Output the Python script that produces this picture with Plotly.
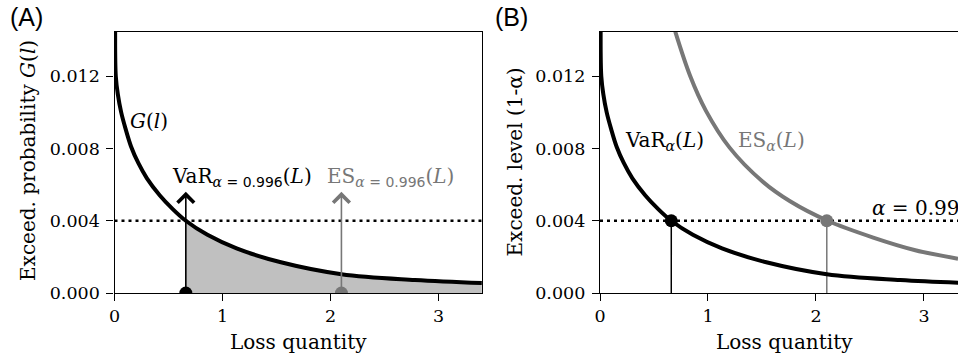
import plotly.graph_objects as go

# ---------------- data ----------------
loss_G = [0.006, 0.012, 0.031, 0.062, 0.102, 0.154, 0.22, 0.30, 0.42, 0.53, 0.66,
          0.86, 1.13, 1.54, 2.10, 2.78, 3.40]
G_vals = [0.01447, 0.0120, 0.0110, 0.0100, 0.0091, 0.0081, 0.0072, 0.00635, 0.0054, 0.0047, 0.0040,
          0.00322, 0.00247, 0.00170, 0.00104, 0.00072, 0.00055]

loss_ES = [0.697, 0.836, 0.98, 1.20, 1.50, 1.76, 2.108, 2.53, 2.92, 3.315]
ES_level = [0.01447, 0.0120, 0.0101, 0.00805, 0.0062, 0.00508, 0.0040, 0.00307, 0.00237, 0.00190]

alpha_level = 0.004      # 1 - alpha
var_loss = 0.66
es_loss = 2.10
arrow_top = 0.0056

x_ticks = [0, 1, 2, 3]
y_ticks = [0.0, 0.004, 0.008, 0.012]
x_max_A = 3.4
x_max_B = 3.315
y_max = 0.01447

BLACK = "black"
GRAY = "#777777"
FILL = "#c0c0c0"
SERIF = "DejaVu Serif"

W, H = 958, 357
def fx(p):
    return p / W
def fy(p):
    return 1 - p / H

fig = go.Figure()

# ---------------- panel A ----------------
fill_x = [var_loss] + [l for l in loss_G if l > var_loss]
fill_y = [alpha_level] + [g for l, g in zip(loss_G, G_vals) if l > var_loss]
fig.add_trace(go.Scatter(x=fill_x, y=fill_y, mode="lines", line=dict(width=0, shape="spline"),
                         fill="tozeroy", fillcolor=FILL, xaxis="x", yaxis="y", hoverinfo="skip"))
fig.add_trace(go.Scatter(x=[0, x_max_A], y=[alpha_level, alpha_level], mode="lines",
                         line=dict(color=BLACK, width=2.5, dash="3px,4px"), xaxis="x", yaxis="y"))
fig.add_trace(go.Scatter(x=loss_G, y=G_vals, mode="lines",
                         line=dict(color=BLACK, width=4, shape="spline", smoothing=1.0),
                         xaxis="x", yaxis="y"))
fig.add_trace(go.Scatter(x=[var_loss], y=[0], mode="markers",
                         marker=dict(color=BLACK, size=13), xaxis="x", yaxis="y", cliponaxis=True))
fig.add_trace(go.Scatter(x=[es_loss], y=[0], mode="markers",
                         marker=dict(color=GRAY, size=13), xaxis="x", yaxis="y", cliponaxis=True))

# ---------------- panel B ----------------
fig.add_trace(go.Scatter(x=[0, x_max_B], y=[alpha_level, alpha_level], mode="lines",
                         line=dict(color=BLACK, width=2.5, dash="3px,4px"), xaxis="x2", yaxis="y2"))
fig.add_trace(go.Scatter(x=[var_loss, var_loss], y=[0, alpha_level], mode="lines",
                         line=dict(color=BLACK, width=1.5), xaxis="x2", yaxis="y2"))
fig.add_trace(go.Scatter(x=[es_loss, es_loss], y=[0, alpha_level], mode="lines",
                         line=dict(color=GRAY, width=1.5), xaxis="x2", yaxis="y2"))
fig.add_trace(go.Scatter(x=loss_G, y=G_vals, mode="lines",
                         line=dict(color=BLACK, width=4, shape="spline", smoothing=1.0),
                         xaxis="x2", yaxis="y2"))
fig.add_trace(go.Scatter(x=loss_ES, y=ES_level, mode="lines",
                         line=dict(color=GRAY, width=4, shape="spline", smoothing=1.0),
                         xaxis="x2", yaxis="y2"))
fig.add_trace(go.Scatter(x=[var_loss], y=[alpha_level], mode="markers",
                         marker=dict(color=BLACK, size=13), xaxis="x2", yaxis="y2"))
fig.add_trace(go.Scatter(x=[es_loss], y=[alpha_level], mode="markers",
                         marker=dict(color=GRAY, size=13), xaxis="x2", yaxis="y2"))

axis_common = dict(showline=True, linecolor=BLACK, linewidth=1.3, ticks="outside", ticklen=7,
                   tickwidth=1.3, tickcolor=BLACK, showgrid=False, zeroline=False,
                   automargin=False,
                   tickfont=dict(family=SERIF, size=17.5, color=BLACK))

y_dom = [fy(293), fy(31.7)]
fig.update_layout(
    width=W, height=H, margin=dict(l=0, r=0, t=0, b=0, autoexpand=False),
    paper_bgcolor="white", plot_bgcolor="white", showlegend=False,
    xaxis=dict(axis_common, domain=[fx(114.5), fx(481.9)], range=[0, x_max_A], tickvals=x_ticks,
               mirror=True, anchor="y"),
    yaxis=dict(axis_common, domain=y_dom, range=[0, y_max], tickvals=y_ticks, tickformat=".3f",
               mirror=True, anchor="x", ticklabelstandoff=3),
    xaxis2=dict(axis_common, domain=[fx(600), 1.0], range=[0, x_max_B], tickvals=x_ticks,
                mirror=True, anchor="y2"),
    yaxis2=dict(axis_common, domain=y_dom, range=[0, y_max], tickvals=y_ticks, tickformat=".3f",
                mirror=False, anchor="x2", ticklabelstandoff=3),
)

txt = dict(family=SERIF, size=20, color=BLACK)
gtxt = dict(family=SERIF, size=20, color=GRAY)
ann = []
# arrows in A
for xv, col in [(var_loss, BLACK), (es_loss, GRAY)]:
    ann.append(dict(x=xv, y=arrow_top, ax=xv, ay=0, xref="x", yref="y", axref="x", ayref="y",
                    showarrow=True, arrowhead=4, arrowsize=2.0, arrowwidth=1.6, arrowcolor=col,
                    text="", standoff=0))
sub_sans = "<span style='font-family:DejaVu Sans'> = 0.996</span>"
ann += [
    dict(x=0.125, y=0.0095, xref="x", yref="y", text="<i>G</i>(<i>l</i>)", showarrow=False,
         xanchor="left", yanchor="middle", font=txt),
    dict(x=0.514, y=0.0064, xref="x", yref="y",
         text="VaR<sub><i>α</i>" + sub_sans + "</sub>(<i>L</i>)", showarrow=False,
         xanchor="left", yanchor="middle", font=txt),
    dict(x=1.95, y=0.0064, xref="x", yref="y",
         text="ES<sub><i>α</i>" + sub_sans + "</sub>(<i>L</i>)", showarrow=False,
         xanchor="left", yanchor="middle", font=gtxt),
    dict(x=0.21, y=0.0084, xref="x2", yref="y2", text="VaR<sub><i>α</i></sub>(<i>L</i>)",
         showarrow=False, xanchor="left", yanchor="middle", font=txt),
    dict(x=1.26, y=0.0084, xref="x2", yref="y2", text="ES<sub><i>α</i></sub>(<i>L</i>)",
         showarrow=False, xanchor="left", yanchor="middle", font=gtxt),
    dict(x=2.5, y=0.00469, xref="x2", yref="y2", text="<i>α</i> = 0.996",
         showarrow=False, xanchor="left", yanchor="middle", font=txt),
    # axis titles
    dict(x=fx(298), y=fy(341.7), xref="paper", yref="paper", text="Loss quantity",
         showarrow=False, xanchor="center", yanchor="middle", font=txt),
    dict(x=fx(784), y=fy(341.7), xref="paper", yref="paper", text="Loss quantity",
         showarrow=False, xanchor="center", yanchor="middle", font=txt),
    dict(x=fx(28), y=fy(161), xref="paper", yref="paper",
         text="Exceed. probability <i>G</i>(<i>l</i>)", textangle=-90,
         showarrow=False, xanchor="center", yanchor="middle", font=txt),
    dict(x=fx(515), y=fy(162.5), xref="paper", yref="paper", text="Exceed. level (1-α)",
         textangle=-90, showarrow=False, xanchor="center", yanchor="middle", font=txt),
    # panel labels
    dict(x=fx(26), y=fy(17), xref="paper", yref="paper", text="(A)", showarrow=False,
         xanchor="center", yanchor="middle", font=dict(family="Liberation Sans", size=25, color=BLACK)),
    dict(x=fx(512), y=fy(17), xref="paper", yref="paper", text="(B)", showarrow=False,
         xanchor="center", yanchor="middle", font=dict(family="Liberation Sans", size=25, color=BLACK)),
]
fig.update_layout(annotations=ann)

fig.write_html("out.html")
